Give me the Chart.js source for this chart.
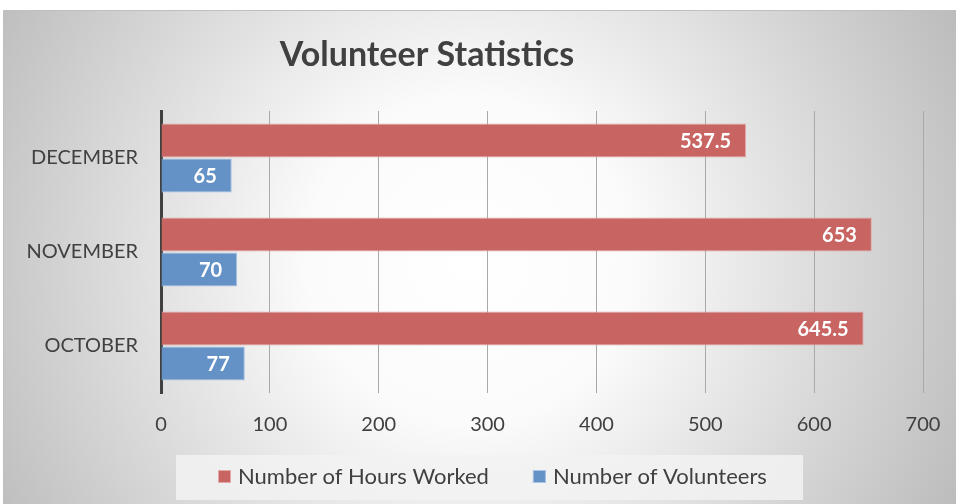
<!DOCTYPE html>
<html>
<head>
<meta charset="utf-8">
<script src="https://cdn.jsdelivr.net/npm/chart.js@4/dist/chart.umd.min.js"></script>
<style>
  html, body { margin: 0; padding: 0; background: #fff; overflow: hidden; }
</style>
</head>
<body>
<canvas id="myChart_vol" width="956" height="504"></canvas>
<script>
// data
const months = ["DECEMBER", "NOVEMBER", "OCTOBER"];
const hoursWorked = [537.5, 653, 645.5];
const volunteers = [65, 70, 77];
const xTicks = [0, 100, 200, 300, 400, 500, 600, 700];
const chartTitle = "Volunteer Statistics";
const seriesNames = ["Number of Hours Worked", "Number of Volunteers"];

const FONT = "Lato, 'Open Sans', sans-serif";
const TXT = "#404040";

// radial grey background + outer frame
const bgPlugin = {
  id: "bg",
  beforeDraw(chart) {
    const c = chart.ctx;
    c.save();
    c.fillStyle = "#ffffff";
    c.fillRect(0, 0, chart.width, chart.height);
    const g = c.createRadialGradient(470, 260, 0, 470, 260, 540);
    g.addColorStop(0, "#ffffff");
    g.addColorStop(0.3, "#fbfbfb");
    g.addColorStop(1, "#bdbdbd");
    c.fillStyle = g;
    c.fillRect(4, 11, chart.width - 4, chart.height - 11);
    c.strokeStyle = "#bfbfbf";
    c.lineWidth = 1;
    c.beginPath();
    c.moveTo(3.5, chart.height);
    c.lineTo(3.5, 10.5);
    c.lineTo(chart.width, 10.5);
    c.stroke();
    c.restore();
  }
};

// title, placed like the excel one (left of centre)
const titlePlugin = {
  id: "titleTxt",
  afterDraw(chart) {
    const c = chart.ctx;
    c.save();
    c.font = "bold 34px " + FONT;
    c.fillStyle = TXT;
    c.textAlign = "center";
    c.textBaseline = "alphabetic";
    c.fillText(chartTitle, 427, 66);
    c.restore();
  }
};

// white value labels inside the bar ends
const valuePlugin = {
  id: "vals",
  afterDatasetsDraw(chart) {
    const c = chart.ctx;
    c.save();
    c.font = "bold 20px " + FONT;
    c.fillStyle = "#ffffff";
    c.textAlign = "right";
    c.textBaseline = "middle";
    chart.data.datasets.forEach((ds, i) => {
      chart.getDatasetMeta(i).data.forEach((bar, j) => {
        c.fillText(String(ds.data[j]), bar.x - 15, bar.y + 1);
      });
    });
    c.restore();
  }
};

// legend in a light box under the axis
const legendPlugin = {
  id: "boxLegend",
  afterDraw(chart) {
    const c = chart.ctx;
    c.save();
    c.fillStyle = "rgba(242,242,242,0.85)";
    c.fillRect(176, 455, 627, 45);
    c.font = "22px " + FONT;
    c.textBaseline = "middle";
    c.textAlign = "left";
    let x = 218;
    const y = 477;
    chart.data.datasets.forEach((ds) => {
      c.fillStyle = ds.backgroundColor;
      c.fillRect(x, y - 7, 13, 13);
      c.strokeStyle = ds.borderColor;
      c.lineWidth = 1;
      c.strokeRect(x + 0.5, y - 6.5, 12, 12);
      c.fillStyle = TXT;
      c.fillText(ds.label, x + 20, y);
      x += 20 + c.measureText(ds.label).width + 44;
    });
    c.restore();
  }
};

const ctx_vol = document.getElementById("myChart_vol").getContext("2d");
const myChart_vol = new Chart(ctx_vol, {
  type: "bar",
  data: {
    labels: months,
    datasets: [
      {
        label: seriesNames[0],
        data: hoursWorked,
        backgroundColor: "#c86461",
        borderColor: "#e3a9a7",
        borderWidth: 1,
      },
      {
        label: seriesNames[1],
        data: volunteers,
        backgroundColor: "#6592c6",
        borderColor: "#a9c3e2",
        borderWidth: 1,
      },
    ],
  },
  options: {
    indexAxis: "y",
    responsive: false,
    animation: false,
    datasets: {
      bar: { categoryPercentage: 0.745, barPercentage: 0.97 }
    },
    layout: { padding: { left: 0, right: 33, top: 111, bottom: 67 } },
    plugins: {
      legend: { display: false },
      title: { display: false },
      tooltip: { enabled: false },
    },
    scales: {
      x: {
        min: 0,
        max: 700,
        afterBuildTicks: (s) => { s.ticks = xTicks.map((v) => ({ value: v })); },
        afterFit: (s) => { s.height = 44; s.paddingRight = 0; s.paddingLeft = 0; },
        grid: { color: "#a9a9a9", lineWidth: 1, drawTicks: false },
        border: { display: false },
        ticks: { color: TXT, font: { family: FONT, size: 20 }, padding: 20 },
      },
      y: {
        afterFit: (s) => { s.width = 161; },
        grid: { display: false, drawTicks: false },
        border: { display: true, color: "#404040", width: 3 },
        ticks: { color: TXT, font: { family: FONT, size: 20 }, padding: 23 },
      },
    },
  },
  plugins: [bgPlugin, valuePlugin, legendPlugin, titlePlugin],
});
</script>
</body>
</html>
